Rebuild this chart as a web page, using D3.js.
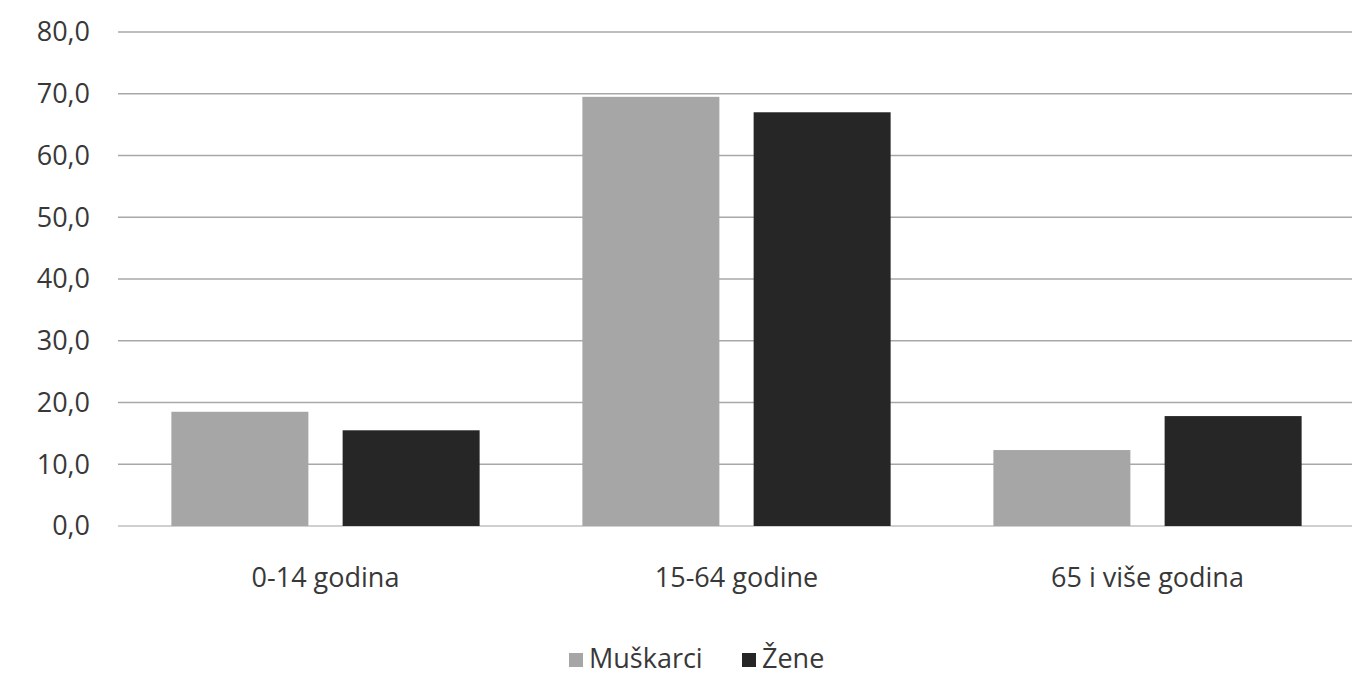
<!DOCTYPE html>
<html><head><meta charset="utf-8">
<script src="https://cdn.jsdelivr.net/npm/d3@7"></script>
<style>body{margin:0;background:#fff}svg{display:block}text{font-family:"Open Sans",sans-serif;fill:#383838}</style>
</head><body><svg id="c" width="1352" height="675"></svg>
<script>
const categories = ["0-14 godina", "15-64 godine", "65 i više godina"];
const seriesNames = ["Muškarci", "Žene"];
const muskarci = [18.5, 69.5, 12.3];
const zene = [15.5, 67.0, 17.8];
const yTicks = [0, 10, 20, 30, 40, 50, 60, 70, 80];
const colors = ["#a6a6a6", "#262626"];

const svg = d3.select("#c");
const x = d3.scaleBand().domain(categories).range([120, 1353]);
const y = d3.scaleLinear().domain([0, 80]).range([526, 32]);
const inner = d3.scaleBand().domain(seriesNames).range([0, x.bandwidth()]).paddingInner(0.2).paddingOuter(0.3);

svg.append("g").selectAll("line").data(yTicks).join("line")
  .attr("x1", 118).attr("x2", 1352)
  .attr("y1", d => y(d)).attr("y2", d => y(d))
  .attr("stroke", d => d === 0 ? "#c0c0c0" : "#a8a8a8").attr("stroke-width", 1.5);

const fmt = d => d3.format(".1f")(d).replace(".", ",");
svg.append("g").selectAll("text").data(yTicks).join("text")
  .attr("x", 90).attr("y", d => y(d)).attr("dy", "0.35em")
  .attr("text-anchor", "end").attr("font-size", 27).text(fmt);

const data = [muskarci, zene];
data.forEach((vals, si) => {
  svg.append("g").selectAll("rect").data(vals).join("rect")
    .attr("x", (d, i) => x(categories[i]) + inner(seriesNames[si]))
    .attr("width", inner.bandwidth())
    .attr("y", d => y(d)).attr("height", d => y(0) - y(d))
    .attr("fill", colors[si]);
});

svg.append("g").selectAll("text").data(categories).join("text")
  .attr("x", d => x(d) + x.bandwidth() / 2).attr("y", 578).attr("dy", "0.35em")
  .attr("text-anchor", "middle").attr("font-size", 27).text(d => d);

const leg = svg.append("g");
const legX = [569, 742];
seriesNames.forEach((n, i) => {
  leg.append("rect").attr("x", legX[i]).attr("y", 653).attr("width", 14).attr("height", 14).attr("fill", colors[i]);
  leg.append("text").attr("x", legX[i] + 20).attr("y", 659).attr("dy", "0.35em").attr("font-size", 27).text(n);
});
</script></body></html>
